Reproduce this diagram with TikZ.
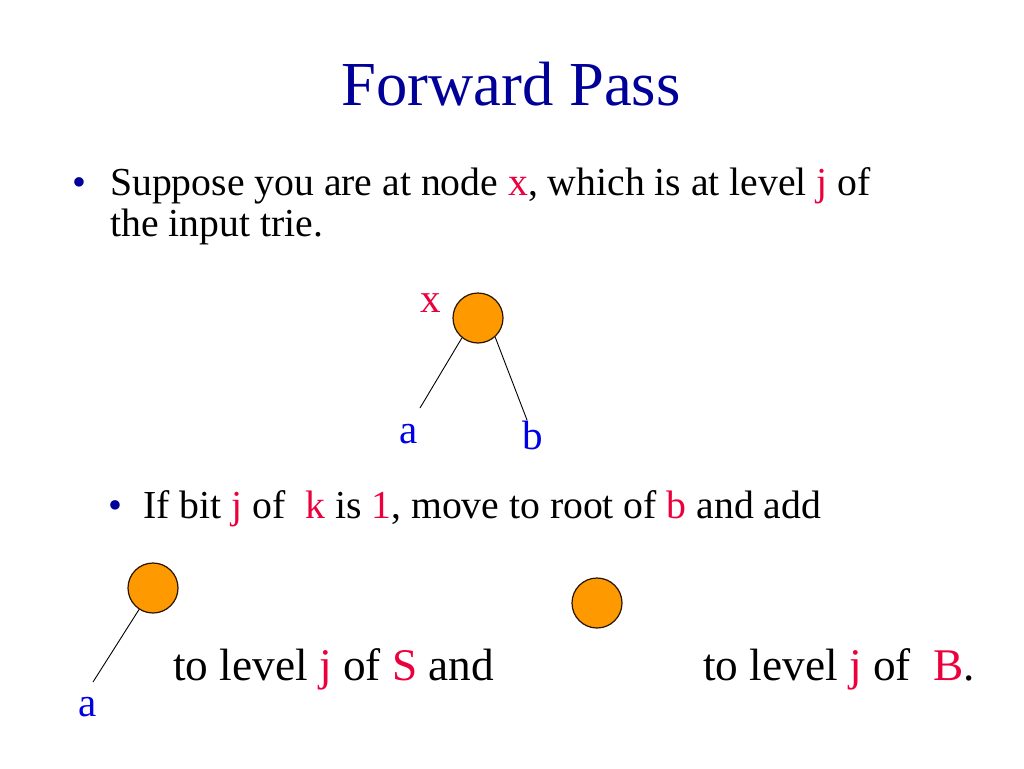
\documentclass[tikz,border=0pt]{standalone}
\usepackage{fontspec}
\setmainfont{Liberation Serif}
\definecolor{titleblue}{RGB}{0,0,153}
\definecolor{keyred}{RGB}{235,0,60}
\definecolor{labelblue}{RGB}{0,0,230}
\definecolor{nodeorange}{RGB}{255,153,0}
\tikzset{
  trienode/.style={circle,draw=black!85!orange,line width=1.2pt,fill=nodeorange,minimum size=50pt,inner sep=0pt},
  edge/.style={line width=0.9pt},
  bodytext/.style={anchor=base west,inner sep=0pt,font=\fontsize{39.7}{41}\selectfont},
  bigtext/.style={anchor=base west,inner sep=0pt,font=\fontsize{45.3}{48}\selectfont},
  labeltext/.style={inner sep=0pt,font=\fontsize{41}{44}\selectfont}
}
\newcommand{\red}[1]{\textcolor{keyred}{#1}}
\begin{document}
\begin{tikzpicture}[x=1pt,y=-1pt]
\useasboundingbox (0,0) rectangle (1024,768);

% Title
\node[inner sep=0pt,anchor=base,font=\fontsize{62.6}{66}\selectfont,text=titleblue] (title) at (511,105) {Forward Pass};

% First bullet
\node[bodytext,text=titleblue] (dot1) at (72,195) {\textbullet};
\node[bodytext] (line1) at (110,195) {Suppose you are at node \red{x}, which is at level \red{j} of};
\node[bodytext] (line2) at (110,236) {the input trie.};

% Input trie
\node[trienode] (root) at (478,318) {};
\node[labeltext,text=keyred,anchor=base] (xlab) at (431,312) {x};
\node[labeltext,text=labelblue,anchor=base] (alab) at (409,443) {a};
\node[labeltext,text=labelblue,anchor=base] (blab) at (533,449) {b};
\coordinate (aend) at (420,408);
\coordinate (bend) at (527,420);
\draw[edge] (root.231) -- (aend);
\draw[edge] (root.312) -- (bend);

% Second bullet
\node[bodytext,text=titleblue] (dot2) at (108,518) {\textbullet};
\node[bodytext] (line3) at (143,518) {If bit \red{j} of~ \red{k} is \red{1}, move to root of \red{b} and add};

% Node with left child a
\node[trienode] (sroot) at (153,588) {};
\node[labeltext,text=labelblue,anchor=base] (slab) at (88,716) {a};
\coordinate (send) at (93,682);
\draw[edge] (sroot.237) -- (send);
\node[bigtext] (stext) at (173,680) {to level \red{j} of \red{S} and};

% Single node
\node[trienode] (broot) at (597,603) {};
\node[bigtext] (btext) at (703,680) {to level \red{j} of~ \red{B}.};

\end{tikzpicture}
\end{document}
